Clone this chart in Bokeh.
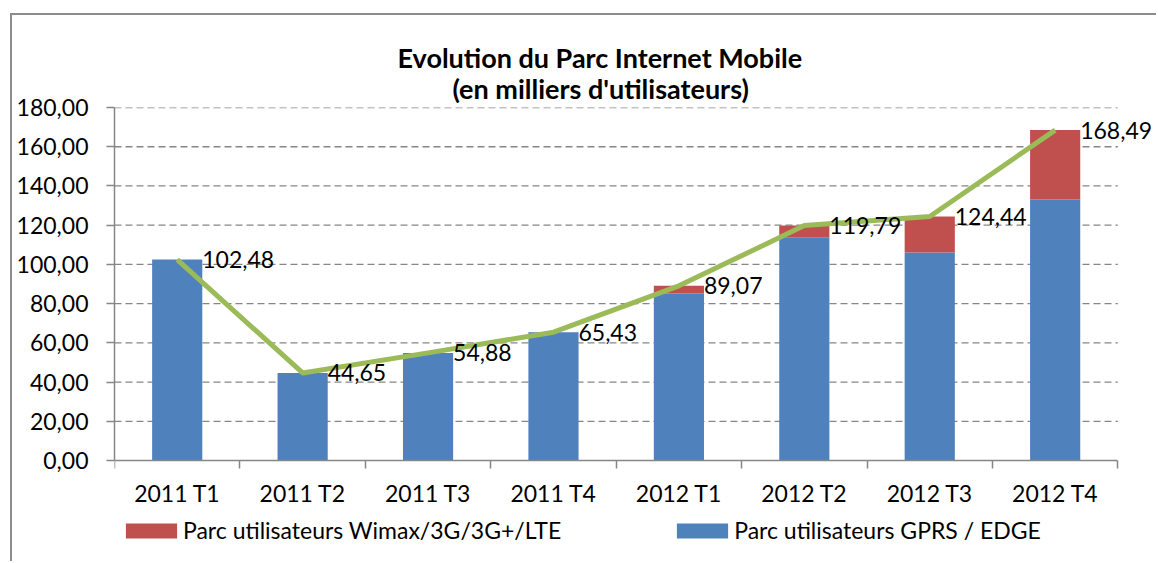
from bokeh.plotting import figure
from bokeh.models import (ColumnDataSource, FixedTicker, CustomJSTickFormatter, Legend,
                          LegendItem, LabelSet, Title, Range1d)
from bokeh.core.properties import value
from bokeh.embed import file_html
from bokeh.resources import INLINE

categories = ["2011 T1", "2011 T2", "2011 T3", "2011 T4", "2012 T1", "2012 T2", "2012 T3", "2012 T4"]
gprs_edge = [102.48, 44.65, 54.88, 65.43, 85.2, 113.8, 106.1, 133.1]
wimax_3g_lte = [0.0, 0.0, 0.0, 0.0, 3.87, 5.99, 18.34, 35.39]
totals = [102.48, 44.65, 54.88, 65.43, 89.07, 119.79, 124.44, 168.49]
y_ticks = [0, 20, 40, 60, 80, 100, 120, 140, 160, 180]

FONT = "Lato"
GRAY = "#868686"
n = len(categories)

xs = [i + 0.5 for i in range(n)]
labels = [f"{v:.2f}".replace(".", ",") for v in totals]
source = ColumnDataSource(dict(x=xs, gprs=gprs_edge, wimax=wimax_3g_lte, total=totals, label=labels))

# frame extends below the value axis so that category labels and legend sit inside it
p = figure(width=1146, height=548, x_range=Range1d(0, n + 0.3), y_range=Range1d(-52.5, 180),
           output_backend="svg", toolbar_location=None, title=None,
           min_border_left=102, min_border_right=3, min_border_top=92, min_border_bottom=0)
p.outline_line_color = None
p.background_fill_color = "white"
p.border_fill_color = "white"
p.styles = {"border-left": "2px solid #8c8c8c", "border-top": "2px solid #8c8c8c",
            "margin-left": "10px", "margin-top": "13px"}

# dashed horizontal gridlines, limited to the category span
p.segment(x0=[0] * len(y_ticks[1:]), x1=[n] * len(y_ticks[1:]), y0=y_ticks[1:], y1=y_ticks[1:],
          line_color=GRAY, line_dash="7 4", line_width=1.3)

rs = p.vbar_stack(["gprs", "wimax"], x="x", width=0.4, source=source,
                  color=["#4F81BD", "#C0504D"], line_color=None)

p.line(x="x", y="total", source=source, line_color="#9BBB59", line_width=5, line_join="round")

lbl = LabelSet(x="x", y="total", text="label", source=source, x_offset=25, y_offset=0,
               text_baseline="middle", text_align="left", text_font=value(FONT),
               text_font_size="23px", text_color="black")
p.add_layout(lbl)

# axes
p.yaxis.ticker = FixedTicker(ticks=y_ticks, minor_ticks=[])
p.yaxis.bounds = (y_ticks[0], y_ticks[-1])
p.yaxis.formatter = CustomJSTickFormatter(code="return tick.toFixed(2).replace('.', ',');")
p.yaxis.axis_line_color = GRAY
p.yaxis.axis_line_width = 1.5
p.yaxis.major_tick_line_color = GRAY
p.yaxis.major_tick_line_width = 1.5
p.yaxis.major_tick_out = 8
p.yaxis.major_tick_in = 0
p.yaxis.major_label_standoff = 18
p.yaxis.major_label_text_font = FONT
p.yaxis.major_label_text_font_size = "23px"
p.yaxis.major_label_text_color = "black"

p.xaxis.fixed_location = 0
p.xaxis.ticker = FixedTicker(ticks=xs, minor_ticks=list(range(n + 1)))
p.xaxis.formatter = CustomJSTickFormatter(args=dict(labels=categories),
                                          code="return labels[Math.floor(tick)] || '';")
p.xaxis.bounds = (0, n)
p.xaxis.axis_line_color = GRAY
p.xaxis.axis_line_width = 1.5
p.xaxis.major_tick_line_color = None
p.xaxis.minor_tick_line_color = GRAY
p.xaxis.minor_tick_line_width = 1.5
p.xaxis.minor_tick_out = 8
p.xaxis.minor_tick_in = 0
p.xaxis.major_label_standoff = 10
p.xaxis.major_label_text_font = FONT
p.xaxis.major_label_text_font_size = "23px"
p.xaxis.major_label_text_color = "black"

p.xgrid.visible = False
p.ygrid.visible = False

# titles (two lines), the first added sits next to the frame
p.add_layout(Title(text="(en milliers d'utilisateurs)", align="left", offset=338, standoff=6,
                   text_font=FONT, text_font_size="27px", text_font_style="bold",
                   text_color="black"), "above")
p.add_layout(Title(text="Evolution du Parc Internet Mobile", align="left", offset=283, standoff=-14,
                   text_font=FONT, text_font_size="27px", text_font_style="bold",
                   text_color="black"), "above")

legend = Legend(items=[LegendItem(label="Parc utilisateurs Wimax/3G/3G+/LTE", renderers=[rs[1]]),
                       LegendItem(label="Parc utilisateurs GPRS / EDGE", renderers=[rs[0]])],
                orientation="horizontal", location=(5, 19), glyph_width=64, glyph_height=19,
                label_standoff=0, spacing=109, padding=0, margin=0, border_line_color=None,
                background_fill_alpha=0, label_text_font=FONT, label_text_font_size="23px",
                label_text_color="black")
p.add_layout(legend, "center")

open("out.html", "w").write(file_html(p, INLINE))
